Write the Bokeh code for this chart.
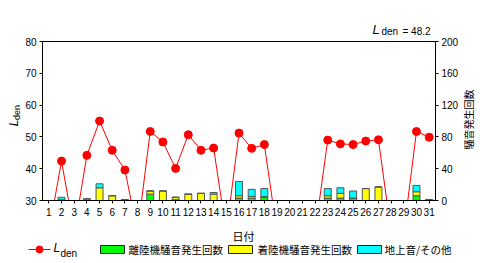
import math
from bokeh.plotting import figure
from bokeh.models import Range1d, LinearAxis, FixedTicker, ColumnDataSource
from bokeh.layouts import column, row
from bokeh.embed import file_html
from bokeh.resources import INLINE
from bokeh.core.properties import value

# ---- data ----
days = list(range(1, 32))
lden = [20, 42.4, 20, 44.2, 55.0, 45.8, 39.6, 20, 51.7, 48.4, 40.1, 50.7, 45.8, 46.5, 20,
        51.2, 46.4, 47.6, 20, 20, 20, 20, 49.0, 47.8, 47.6, 48.7, 49.1, 20, 20, 51.7, 49.9]
takeoff = [0, 0, 0, 0, 0, 0, 0, 0, 8, 0, 1, 0, 0, 0, 0, 3, 3, 4, 0, 0, 0, 0, 3, 3, 3, 0, 0, 0, 0, 6, 1]
landing = [0, 1, 0, 2, 16, 6, 1, 0, 4, 12, 3, 8, 9, 8, 0, 3, 2, 1, 0, 0, 0, 0, 3, 6, 0, 15, 17, 0, 0, 5, 0]
ground = [0, 3, 0, 0, 5, 0, 0, 0, 0, 0, 0, 0, 0, 2, 0, 18, 9, 10, 0, 0, 0, 0, 9, 7, 9, 0, 0, 0, 0, 8, 0]
lden_total = 48.2
left_ticks = [30, 40, 50, 60, 70, 80]
right_ticks = [0, 40, 80, 120, 160, 200]
series_names = ["離陸機騒音発生回数", "着陸機騒音発生回数", "地上音/その他"]
series_colors = ["#00FF00", "#FFFF00", "#00FFFF"]
x_title = "日付"
y2_title = "騒音発生回数"

JP = "Noto Sans CJK JP"
NUM = "Liberation Sans"

TOP_H = 37
MAIN_H = 183
LEG_H = 43
LEFT_W = 22
RIGHT_W = 19
MAIN_W = 480 - LEFT_W - RIGHT_W


def strip(width, height, left_px, top_px):
    """Blank figure whose data coordinates equal page pixels (y negated)."""
    f = figure(width=width, height=height,
               x_range=Range1d(left_px, left_px + width),
               y_range=Range1d(-(top_px + height), -top_px),
               output_backend="svg", toolbar_location=None, min_border=0, frame_align=False)
    f.axis.visible = False
    f.grid.visible = False
    f.outline_line_color = None
    return f


# ---- main chart ----
p = figure(width=MAIN_W, height=MAIN_H, x_range=Range1d(0.5, 31.5), y_range=Range1d(30, 80),
           output_backend="svg", toolbar_location=None, frame_align=False,
           min_border_left=18, min_border_right=23, min_border_top=4, min_border_bottom=20)
p.extra_y_ranges = {"cnt": Range1d(0, 200)}
p.xgrid.visible = False
p.ygrid.visible = False
p.outline_line_color = "black"
p.outline_line_width = 1


def style_axis(ax):
    ax.axis_line_color = "black"
    ax.major_tick_line_color = "black"
    ax.major_tick_out = 3
    ax.major_tick_in = 0
    ax.minor_tick_line_color = None
    ax.major_label_text_font = NUM
    ax.major_label_text_font_size = "10px"
    ax.major_label_text_color = "black"
    ax.major_label_standoff = 3


p.yaxis.ticker = FixedTicker(ticks=left_ticks)
p.xaxis.ticker = FixedTicker(ticks=days)
style_axis(p.yaxis[0])
style_axis(p.xaxis[0])
p.xaxis.major_label_standoff = 4

rax = LinearAxis(y_range_name="cnt", ticker=FixedTicker(ticks=right_ticks))
style_axis(rax)
p.add_layout(rax, "right")

src = ColumnDataSource(dict(day=days, takeoff=takeoff, landing=landing, ground=ground))
p.vbar_stack(["takeoff", "landing", "ground"], x="day", width=0.55, color=series_colors,
             line_color="#555555", line_width=1, y_range_name="cnt", source=src)

p.line(days, lden, line_color="#FF0000", line_width=1)
p.scatter(days, lden, size=8, fill_color="#FF0000", line_color="#FF0000")

# ---- top strip: overall Lden ----
top = strip(480, TOP_H, 0, 0)
top.text(x=[372], y=[-28.5], text=["L"], text_font=value(NUM), text_font_style="italic",
         text_font_size="13px", text_align="left", text_baseline="middle")
top.text(x=[381], y=[-31], text=["den"], text_font=value(NUM), text_font_size="10px",
         text_align="left", text_baseline="middle")
top.text(x=[402], y=[-30.5], text=["=  " + f"{lden_total}"], text_font=value(NUM), text_font_size="10px",
         text_align="left", text_baseline="middle")

# ---- left strip: Lden axis title ----
lft = strip(LEFT_W, MAIN_H, 0, TOP_H)
lft.text(x=[13.5], y=[-122.5], text=["L"], text_font=value(NUM), text_font_style="italic",
         text_font_size="12px", text_align="center", text_baseline="middle", angle=math.pi / 2)
lft.text(x=[16.5], y=[-112], text=["den"], text_font=value(NUM), text_font_size="9px",
         text_align="center", text_baseline="middle", angle=math.pi / 2)

# ---- right strip: count axis title ----
rgt = strip(RIGHT_W, MAIN_H, 480 - RIGHT_W, TOP_H)
rgt.text(x=[468], y=[-119], text=[y2_title], text_font=value(JP), text_font_size="10px",
         text_align="center", text_baseline="middle", angle=math.pi / 2)

# ---- legend strip ----
lg = strip(480, LEG_H, 0, TOP_H + MAIN_H)
lg.text(x=[243], y=[-235], text=[x_title], text_font=value(JP), text_font_size="11px",
        text_align="center", text_baseline="middle", text_color="black")
lg.line(x=[28, 50], y=[-249, -249], line_color="#FF0000", line_width=1)
lg.scatter(x=[39], y=[-249], size=7, fill_color="#FF0000", line_color="#FF0000")
lg.text(x=[53], y=[-247.5], text=["L"], text_font=value(NUM), text_font_style="italic",
        text_font_size="12px", text_align="left", text_baseline="middle")
lg.text(x=[60], y=[-253], text=["den"], text_font=value(NUM),
        text_font_size="10px", text_align="left", text_baseline="middle")
box_left = [100, 228, 357]
text_left = [128, 257, 384]
for name, col, bl, tl in zip(series_names, series_colors, box_left, text_left):
    lg.quad(left=[bl], right=[bl + 24], top=[-245], bottom=[-253], fill_color=col, line_color="#222222")
    lg.text(x=[tl], y=[-249], text=[name], text_font=value(JP), text_font_size="10.5px",
            text_align="left", text_baseline="middle", text_color="black")

layout = column(top, row(lft, p, rgt, spacing=0), lg, spacing=0)
open("out.html", "w").write(file_html(layout, INLINE))
